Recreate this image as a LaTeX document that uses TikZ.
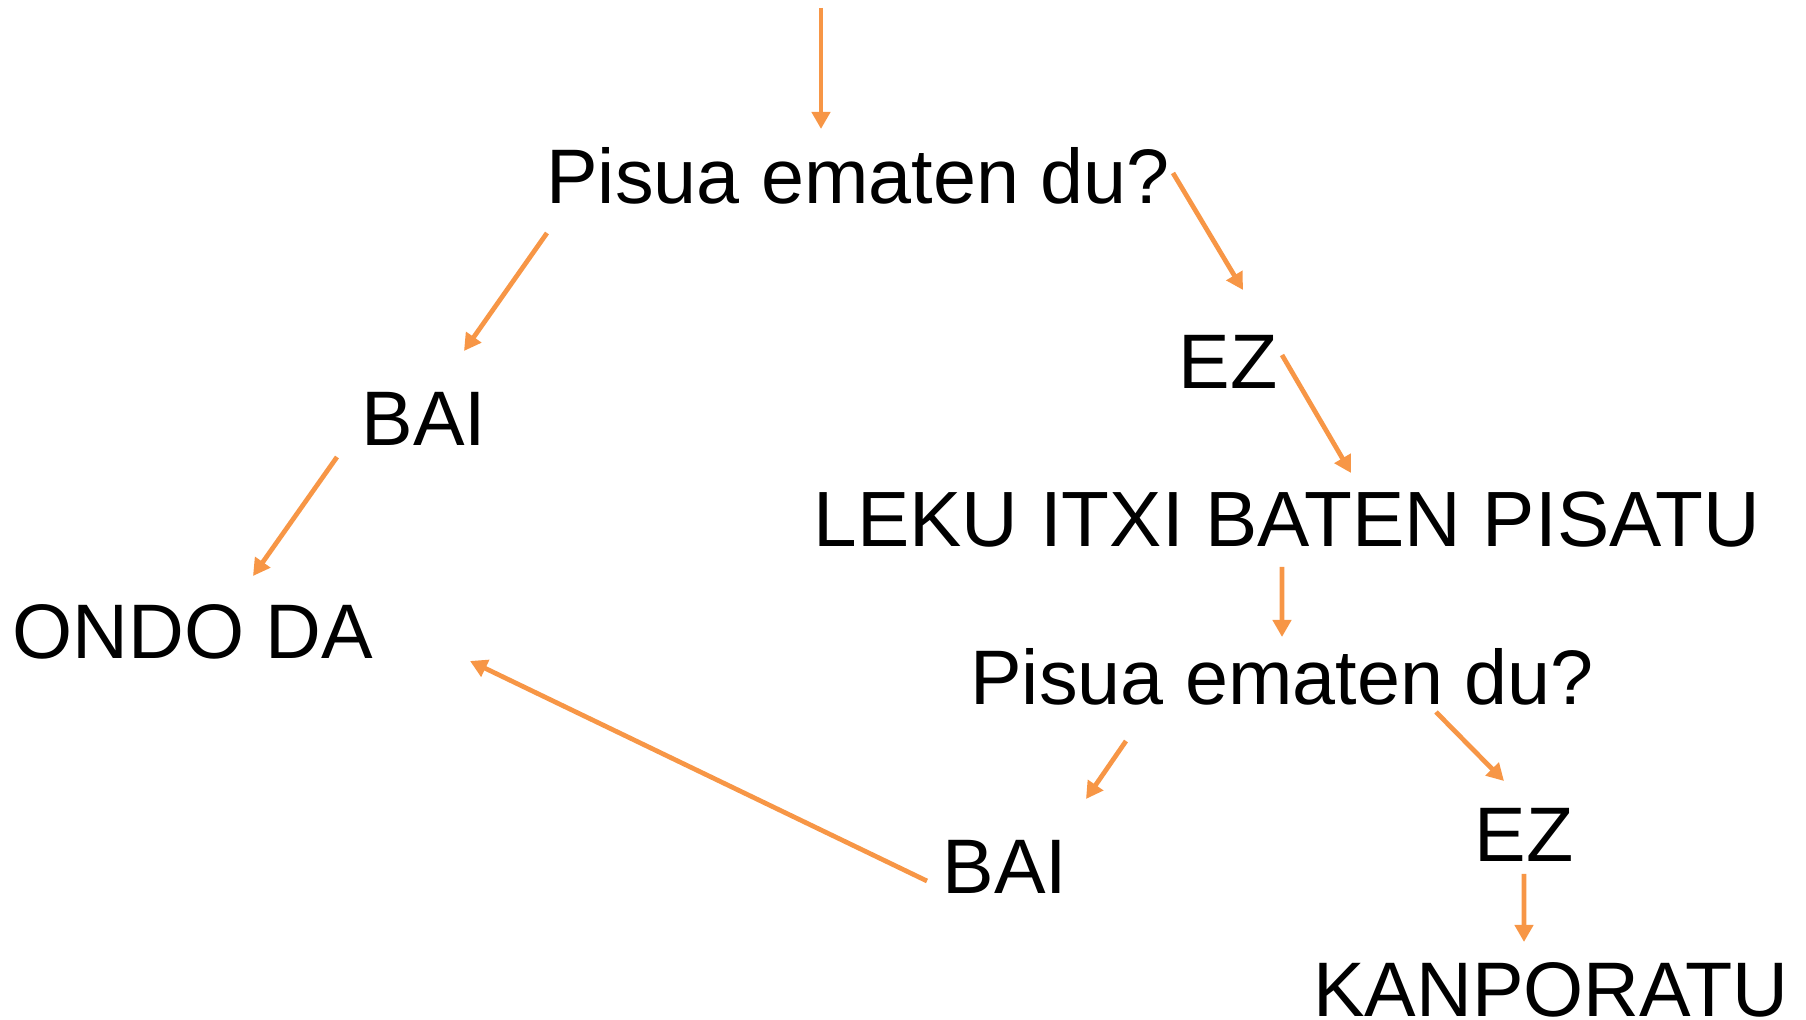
\documentclass[tikz,border=0pt]{standalone}
\usepackage{fontspec}
\setmainfont{Liberation Sans}
\usetikzlibrary{arrows.meta,calc}
\usepackage{xcolor}
\definecolor{arroworange}{RGB}{247,150,70}

\begin{document}
\begin{tikzpicture}[
    lbl/.style={anchor=base, inner sep=0pt, font=\fontsize{22pt}{26pt}\selectfont},
    arr/.style={-{Triangle[length=0.17cm, width=0.18cm]}, draw=arroworange, line width=1.35pt}
]
    \useasboundingbox (0,0) rectangle (18.06,-10.20);

    % nodes
    \coordinate (top) at (8.21,-0.08);
    \node[lbl] (q1) at (8.58,-2.04) {Pisua ematen du?};
    \node[lbl] (bai1) at (4.24,-4.46) {BAI};
    \node[lbl] (ez1) at (12.28,-3.89) {EZ};
    \node[lbl, font=\fontsize{22.3pt}{26pt}\selectfont] (leku) at (12.87,-5.47) {LEKU ITXI BATEN PISATU};
    \node[lbl] (ondo) at (1.93,-6.59) {ONDO DA};
    \node[lbl] (q2) at (12.82,-7.05) {Pisua ematen du?};
    \node[lbl] (bai2) at (10.05,-8.94) {BAI};
    \node[lbl] (ez2) at (15.24,-8.62) {EZ};
    \node[lbl] (kanpo) at (15.51,-10.17) {KANPORATU};

    % connectors
    \draw[arr] (top) -- ([shift={(-0.37,0.75)}]q1.base);
    \draw[arr] ([shift={(-3.11,-0.29)}]q1.base) -- ([shift={(0.40,0.95)}]bai1.base);
    \draw[arr] ([shift={(3.15,0.31)}]q1.base) -- ([shift={(0.15,0.99)}]ez1.base);
    \draw[arr] ([shift={(0.54,0.34)}]ez1.base) -- ([shift={(0.64,0.74)}]leku.base);
    \draw[arr] ([shift={(-0.87,-0.11)}]bai1.base) -- ([shift={(0.60,0.83)}]ondo.base);
    \draw[arr] ([shift={(-0.05,-0.20)}]leku.base) -- ([shift={(0,0.68)}]q2.base);
    \draw[arr] ([shift={(-1.56,-0.36)}]q2.base) -- ([shift={(0.81,0.95)}]bai2.base);
    \draw[arr] ([shift={(1.54,-0.07)}]q2.base) -- ([shift={(-0.20,0.81)}]ez2.base);
    \draw[arr] ([shift={(0,-0.12)}]ez2.base) -- ([shift={(-0.27,0.75)}]kanpo.base);
    \draw[arr] ([shift={(-0.78,0.13)}]bai2.base) -- ([shift={(2.77,-0.02)}]ondo.base);
\end{tikzpicture}
\end{document}
